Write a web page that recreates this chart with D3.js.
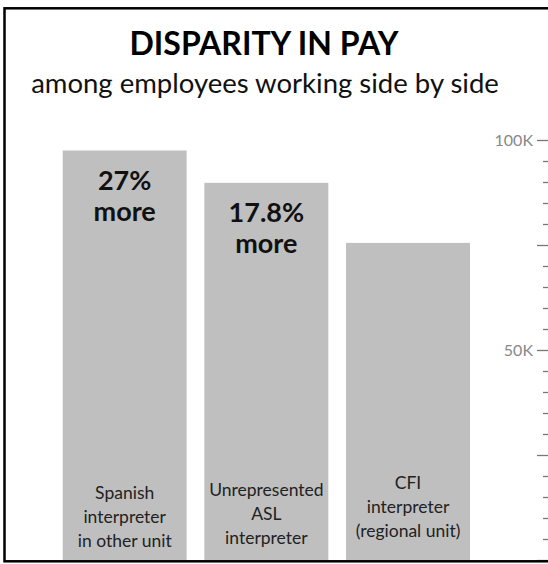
<!DOCTYPE html>
<html>
<head>
<meta charset="utf-8">
<script src="https://cdn.jsdelivr.net/npm/d3@7"></script>
<style>
  body { margin: 0; background: #fff; }
  svg { display: block; font-family: Lato, "Open Sans", sans-serif; }
</style>
</head>
<body>
<svg></svg>
<script>
// chart data
const categories = ["spanish", "asl", "cfi"];
const categoryLines = [
  ["Spanish", "interpreter", "in other unit"],
  ["Unrepresented", "ASL", "interpreter"],
  ["CFI", "interpreter", "(regional unit)"]
];
const pay = [97500, 89800, 75500];
const diffLabels = [["27%", "more"], ["17.8%", "more"], []];
const tickValues = d3.range(0, 100001, 5000);
const labelledTicks = [50000, 100000];

const width = 548;
const height = 564;

const svg = d3.select("svg").attr("width", width).attr("height", height);

let x = d3.scaleBand()
  .domain(categories)
  .range([62.7, 470])
  .paddingInner(0.125)
  .paddingOuter(0);

let y = d3.scaleLinear()
  .domain([0, 100000])
  .range([560, 140]);

// bars
svg.selectAll(".bar")
  .data(categories)
  .enter()
  .append("rect")
  .classed("bar", true)
  .attr("x", (d) => x(d))
  .attr("y", (d, i) => y(pay[i]))
  .attr("width", x.bandwidth())
  .attr("height", (d, i) => y(0) - y(pay[i]))
  .attr("fill", "#bfbfbf");

// percentage labels near the bar tops
categories.forEach((c, i) => {
  let cx = x(c) + x.bandwidth() / 2;
  diffLabels[i].forEach((line, j) => {
    svg.append("text")
      .attr("x", cx)
      .attr("y", y(pay[i]) + 39 + j * 31.5)
      .attr("text-anchor", "middle")
      .attr("font-weight", "bold")
      .attr("font-size", 27)
      .attr("fill", "#111")
      .text(line);
  });
});

// category labels at the bottom of the bars
const labelBase = [499, 496, 489];
categories.forEach((c, i) => {
  let cx = x(c) + x.bandwidth() / 2;
  categoryLines[i].forEach((line, j) => {
    svg.append("text")
      .attr("x", cx)
      .attr("y", labelBase[i] + j * 24)
      .attr("text-anchor", "middle")
      .attr("font-size", 17.5)
      .attr("fill", "#222")
      .text(line);
  });
});

// axis on the right edge
let axis = d3.axisLeft(y)
  .tickValues(tickValues)
  .tickSize(11)
  .tickPadding(4)
  .tickFormat((d) => (labelledTicks.includes(d) ? d / 1000 + "K" : ""));

let g = svg.append("g")
  .attr("transform", `translate(${width},0)`)
  .call(axis);

g.select(".domain").remove();
g.selectAll(".tick line")
  .attr("stroke", "#777")
  .attr("stroke-width", 1.3)
  .attr("x2", (d) => (d % 25000 === 0 ? -11 : -5));
g.selectAll(".tick text")
  .attr("fill", "#888")
  .attr("font-size", 16)
  .attr("font-family", "Lato, 'Open Sans', sans-serif");

// title
svg.append("text")
  .attr("x", 264)
  .attr("y", 55)
  .attr("text-anchor", "middle")
  .attr("font-weight", "bold")
  .attr("font-size", 32)
  .attr("fill", "#000")
  .text("DISPARITY IN PAY");

svg.append("text")
  .attr("x", 265)
  .attr("y", 93)
  .attr("text-anchor", "middle")
  .attr("font-size", 27.5)
  .attr("fill", "#111")
  .text("among employees working side by side");

// frame, open on the right like the original crop
svg.append("rect")
  .attr("x", 4.5)
  .attr("y", 8.3)
  .attr("width", 600)
  .attr("height", 553)
  .attr("fill", "none")
  .attr("stroke", "#000")
  .attr("stroke-width", 2.5);
</script>
</body>
</html>
